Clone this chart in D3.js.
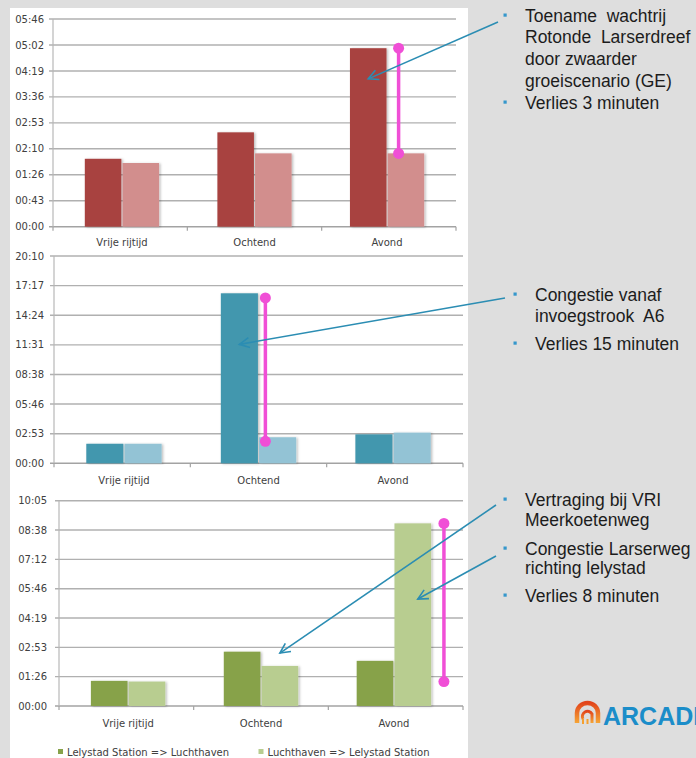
<!DOCTYPE html>
<html>
<head>
<meta charset="utf-8">
<script src="https://cdn.jsdelivr.net/npm/d3@7"></script>
<style>
  html, body { margin: 0; padding: 0; background: #dedede; }
  svg { display: block; }
</style>
</head>
<body>
<svg id="chart" width="696" height="758"></svg>
<script>
// ---- data (travel times in seconds) ----
const categories = ["Vrije rijtijd", "Ochtend", "Avond"];
const seriesNames = ["Lelystad Station => Luchthaven", "Luchthaven => Lelystad Station"];

// Rotonde Larserdreef
const topOutbound = [113, 157, 297];
const topReturn   = [106, 122, 122];
const topTickLabels = ["00:00","00:43","01:26","02:10","02:53","03:36","04:19","05:02","05:46"];
const topMax = 345.6;

// Invoegstrook A6
const midOutbound = [114, 992, 169];
const midReturn   = [114, 152, 179];
const midTickLabels = ["00:00","02:53","05:46","08:38","11:31","14:24","17:17","20:10"];
const midMax = 1209.6;

// Larserweg / Meerkoetenweg
const botOutbound = [74, 160, 133];
const botReturn   = [72, 118, 538];
const botTickLabels = ["00:00","01:26","02:53","04:19","05:46","07:12","08:38","10:05"];
const botMax = 604.8;

// loss ranges (from, to) shown as magenta markers
const topLoss = [297, 122];
const midLoss = [965, 128];
const botLoss = [538, 72];

// ---- drawing ----
const svg = d3.select("#chart");
const defs = svg.append("defs");

const shadow = defs.append("filter").attr("id", "barShadow")
  .attr("x", "-20%").attr("y", "-5%").attr("width", "140%").attr("height", "110%");
shadow.append("feDropShadow").attr("dx", 1.5).attr("dy", 0.5)
  .attr("stdDeviation", 0.8).attr("flood-color", "#000").attr("flood-opacity", 0.25);

defs.append("marker").attr("id", "arrowHead")
  .attr("viewBox", "-12 -7 14 14").attr("refX", 0).attr("refY", 0)
  .attr("markerWidth", 14).attr("markerHeight", 14).attr("markerUnits", "userSpaceOnUse")
  .attr("orient", "auto")
  .append("path").attr("d", "M-10,-5 L0,0 L-10,5")
  .attr("fill", "none").attr("stroke", "#2b8db3").attr("stroke-width", 1.6);

const logoGrad = defs.append("linearGradient").attr("id", "logoGrad")
  .attr("x1", 0).attr("y1", 0).attr("x2", 0).attr("y2", 1);
logoGrad.append("stop").attr("offset", "0%").attr("stop-color", "#e2461c");
logoGrad.append("stop").attr("offset", "100%").attr("stop-color", "#f6a535");

svg.append("rect").attr("width", 696).attr("height", 758).attr("fill", "#dedede");
svg.append("rect").attr("x", 10).attr("y", 8).attr("width", 458).attr("height", 750).attr("fill", "#ffffff");

const panels = [
  { outbound: topOutbound, ret: topReturn, ticks: topTickLabels, max: topMax, loss: topLoss,
    yTop: 19, yZero: 226.7, x0: 53, x1: 456, labelY: 246, tickRight: 44,
    colors: ["#a8433f", "#d28e8d"], lossCat: 2, lossDx: 0.3,
    arrows: [{ from: [498, 22], cat: 2, s: 0, v: 246, dx: 0 }] },
  { outbound: midOutbound, ret: midReturn, ticks: midTickLabels, max: midMax, loss: midLoss,
    yTop: 256, yZero: 463.3, x0: 54, x1: 463, labelY: 484, tickRight: 44,
    colors: ["#4397ae", "#93c3d5"], lossCat: 1, lossDx: 0.17,
    arrows: [{ from: [505, 298], cat: 1, s: 0, v: 694, dx: 0 }] },
  { outbound: botOutbound, ret: botReturn, ticks: botTickLabels, max: botMax, loss: botLoss,
    yTop: 500.7, yZero: 706, x0: 59, x1: 463, labelY: 727, tickRight: 47,
    colors: ["#87a24a", "#b8cd90"], lossCat: 2, lossDx: 1.35,
    arrows: [{ from: [496, 505], cat: 1, s: 1, v: 156, dx: 0 },
             { from: [496, 556], cat: 2, s: 1, v: 315, dx: 5 }] }
];

const fmtFont = "'DejaVu Sans', sans-serif";

panels.forEach(p => {
  const g = svg.append("g");
  const y = d3.scaleLinear().domain([0, p.max]).range([p.yZero, p.yTop]);
  const x = d3.scaleBand().domain(categories).range([p.x0, p.x1]).paddingInner(0.44).paddingOuter(0.24);
  const xs = d3.scaleBand().domain([0, 1]).range([0, x.bandwidth()]).paddingInner(0.03);
  const step = x.step();

  // value gridlines + tick labels
  const tickVals = p.ticks.map((t, i) => i * p.max / (p.ticks.length - 1));
  g.selectAll("line.grid").data(tickVals).join("line")
    .attr("x1", p.x0 - 4).attr("x2", p.x1)
    .attr("y1", d => y(d)).attr("y2", d => y(d))
    .attr("stroke", d => d === 0 ? "#a3a3a3" : "#b0b0b0").attr("stroke-width", 1.4);
  g.selectAll("text.tick").data(p.ticks).join("text")
    .attr("x", p.tickRight).attr("y", (t, i) => y(tickVals[i]) + 3.6)
    .attr("text-anchor", "end").attr("font-family", fmtFont).attr("font-size", 10)
    .attr("fill", "#404040").text(d => d);

  // value axis line
  g.append("line").attr("x1", p.x0).attr("x2", p.x0).attr("y1", p.yTop).attr("y2", p.yZero)
    .attr("stroke", "#b8b8b8").attr("stroke-width", 1.2);
  // category tick marks
  g.selectAll("line.ctick").data(d3.range(categories.length + 1)).join("line")
    .attr("x1", i => p.x0 + i * (p.x1 - p.x0) / categories.length)
    .attr("x2", i => p.x0 + i * (p.x1 - p.x0) / categories.length)
    .attr("y1", p.yZero).attr("y2", p.yZero + 4)
    .attr("stroke", "#a3a3a3").attr("stroke-width", 1.2);

  // bars
  const rows = [];
  categories.forEach((c, i) => {
    rows.push({ c, s: 0, v: p.outbound[i] });
    rows.push({ c, s: 1, v: p.ret[i] });
  });
  g.selectAll("rect.bar").data(rows).join("rect")
    .attr("x", d => x(d.c) + xs(d.s)).attr("width", xs.bandwidth())
    .attr("y", d => y(d.v)).attr("height", d => y(0) - y(d.v))
    .attr("fill", d => p.colors[d.s]).attr("filter", "url(#barShadow)");

  // category labels
  g.selectAll("text.cat").data(categories).join("text")
    .attr("x", d => x(d) + x.bandwidth() / 2).attr("y", p.labelY)
    .attr("text-anchor", "middle").attr("font-family", fmtFont).attr("font-size", 10)
    .attr("fill", "#404040").text(d => d);

  // loss marker
  const lx = x(categories[p.lossCat]) + xs(1) + xs.bandwidth() * p.lossDx;
  g.append("line").attr("x1", lx).attr("x2", lx)
    .attr("y1", y(p.loss[0])).attr("y2", y(p.loss[1]))
    .attr("stroke", "#f04fd6").attr("stroke-width", 3.5);
  g.selectAll("circle.loss").data(p.loss).join("circle")
    .attr("cx", lx).attr("cy", d => y(d)).attr("r", 5.5).attr("fill", "#f04fd6");

  // callout arrows
  p.arrows.forEach(a => {
    const tx = x(categories[a.cat]) + xs(a.s) + xs.bandwidth() / 2 + a.dx;
    svg.append("line").attr("x1", a.from[0]).attr("y1", a.from[1])
      .attr("x2", tx).attr("y2", y(a.v))
      .attr("stroke", "#2b8db3").attr("stroke-width", 1.6)
      .attr("marker-end", "url(#arrowHead)");
  });
});

// legend
const legend = svg.append("g");
const legendColors = ["#87a24a", "#b8cd90"];
const legendX = [58, 258.5];
seriesNames.forEach((name, i) => {
  legend.append("rect").attr("x", legendX[i]).attr("y", 749).attr("width", 5).attr("height", 5)
    .attr("fill", legendColors[i]);
  legend.append("text").attr("x", legendX[i] + 9).attr("y", 755.5)
    .attr("font-family", fmtFont).attr("font-size", 10).attr("fill", "#404040").text(name);
});

// side notes
const notes = [
  { x: 525, lines: [
    { t: "Toename  wachtrij", y: 22, b: true },
    { t: "Rotonde  Larserdreef", y: 43 },
    { t: "door zwaarder", y: 65 },
    { t: "groeiscenario (GE)", y: 87 },
    { t: "Verlies 3 minuten", y: 109, b: true } ] },
  { x: 535, lines: [
    { t: "Congestie vanaf", y: 301, b: true },
    { t: "invoegstrook  A6", y: 322 },
    { t: "Verlies 15 minuten", y: 350, b: true } ] },
  { x: 525, lines: [
    { t: "Vertraging bij VRI", y: 506, b: true },
    { t: "Meerkoetenweg", y: 526 },
    { t: "Congestie Larserweg", y: 555, b: true },
    { t: "richting lelystad", y: 574 },
    { t: "Verlies 8 minuten", y: 602, b: true } ] }
];
const noteG = svg.append("g");
notes.forEach(n => {
  n.lines.forEach(l => {
    noteG.append("text").attr("x", n.x).attr("y", l.y)
      .attr("font-family", "'Liberation Sans', Arial, sans-serif").attr("font-size", 17.5)
      .attr("fill", "#1c1c1c").style("white-space", "pre").text(l.t);
    if (l.b) {
      noteG.append("rect").attr("x", n.x - 21.5).attr("y", l.y - 8.5)
        .attr("width", 3.2).attr("height", 3.2).attr("fill", "#3597cc");
    }
  });
});

// logo
const logo = svg.append("g");
logo.append("path").attr("d", "M577,723 L577,713 A10.5,10 0 0 1 598,713 L598,723")
  .attr("fill", "none").attr("stroke", "url(#logoGrad)").attr("stroke-width", 4.5);
logo.append("path").attr("d", "M583,719 A4.8,4.8 0 1 1 592,714 L592,723")
  .attr("fill", "none").attr("stroke", "url(#logoGrad)").attr("stroke-width", 3);
logo.append("path").attr("d", "M583,719 L583,724 M587.5,719 L587.5,724")
  .attr("fill", "none").attr("stroke", "#f5a030").attr("stroke-width", 2);
logo.append("text").attr("x", 603).attr("y", 725)
  .attr("font-family", "'Liberation Sans', Arial, sans-serif").attr("font-weight", "bold")
  .attr("font-size", 25).attr("fill", "#1b8dc9").text("ARCADIS");
</script>
</body>
</html>
